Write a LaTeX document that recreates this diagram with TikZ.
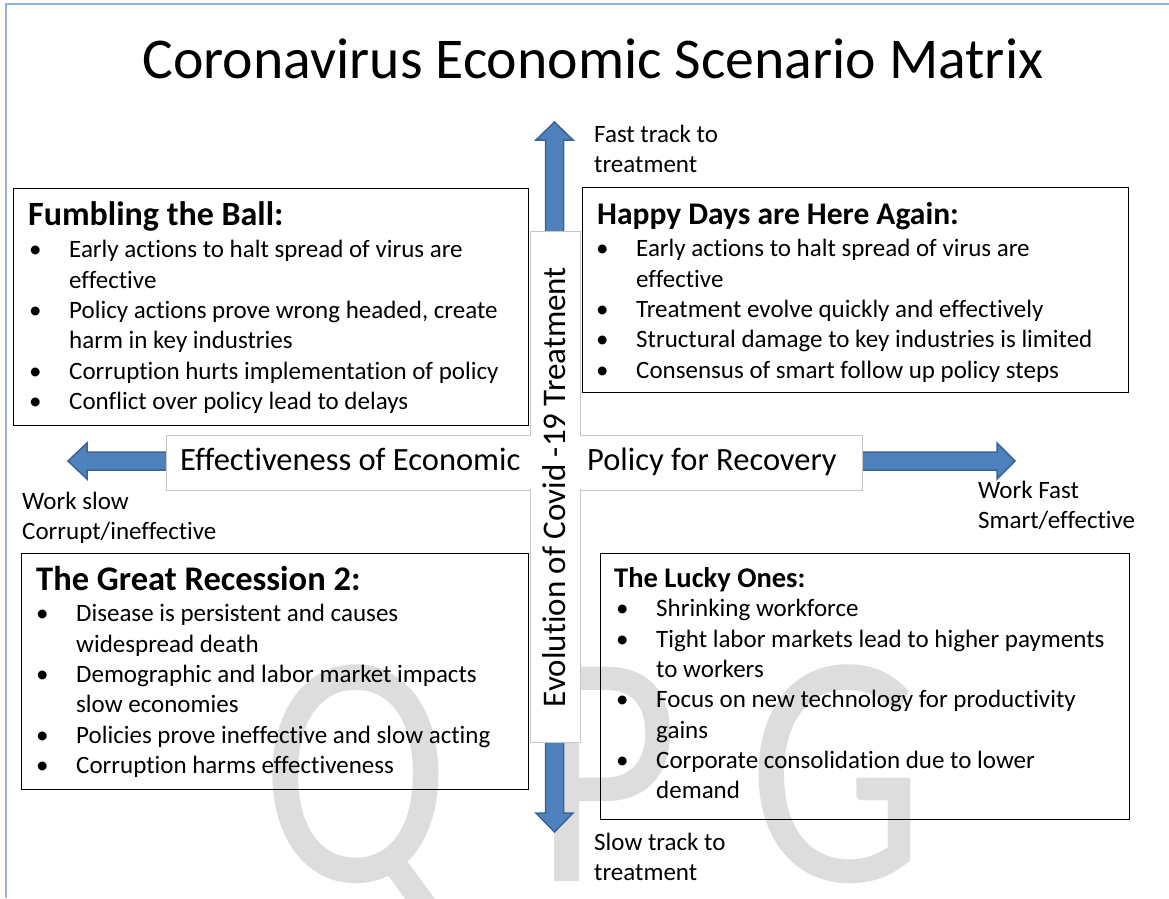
\documentclass[tikz,border=0pt]{standalone}
\usepackage{fontspec}
\setmainfont{Carlito}[Ligatures=CommonOff]
\setlength{\parindent}{0pt}
\definecolor{arrowfill}{HTML}{4F81BD}
\definecolor{arrowline}{HTML}{3B6497}
\definecolor{markgray}{HTML}{DDDDDD}
\definecolor{plusline}{HTML}{C6C6C6}
\definecolor{slideedge}{HTML}{8EB4E3}

% bullet line and continuation line with a fixed hanging indent
\newcommand\bul{\strut\makebox[40pt][l]{\textbullet}}
\newcommand\cont{\strut\hspace*{40pt}}

\begin{document}
\begin{tikzpicture}[x=1pt,y=-1pt,
  quad/.style={draw=black, line width=1.4pt, inner sep=0, anchor=north west},
  head/.style={anchor=base west, inner sep=0, font=\bfseries\fontsize{#1}{36}\selectfont},
  body/.style={anchor=north west, inner sep=0, align=left, font=\fontsize{25}{30.3}\selectfont},
  axlabel/.style={anchor=north west, inner sep=0, align=left, font=\fontsize{25}{30}\selectfont},
  blockarrow/.style={fill=arrowfill, draw=arrowline, line width=1.5pt, line join=miter},
  watermark/.style={anchor=base west, inner sep=0, text=markgray, xscale=0.84, font=\fontsize{334}{334}\selectfont},
  bar/.style={draw=plusline, fill=white, line width=0.8pt, inner sep=0, anchor=north west},
]
\useasboundingbox (0,0) rectangle (1169,898);

% faint letters in the background
\node[watermark] (wmQ) at (261.5,881) {Q};
\node[watermark] (wmP) at (534,881) {P};
\node[watermark] (wmG) at (748,881) {G};

% slide edge
\draw[slideedge, line width=1.5pt] (6,898) -- (6,4) -- (1169,4);

% title
\node[font=\fontsize{57.7}{70}\selectfont, anchor=base, inner sep=0] (title) at (593,78) {Coronavirus Economic Scenario Matrix};

% axis block arrows
\draw[blockarrow] (545.5,140) -- (536,140) -- (554.5,122) -- (573,140) -- (563.5,140)
  -- (563.5,813) -- (573,813) -- (554.5,832) -- (536,813) -- (545.5,813) -- cycle;
\draw[blockarrow] (87,452) -- (87,443) -- (68,461) -- (87,479) -- (87,470)
  -- (997,470) -- (997,479) -- (1015,461) -- (997,443) -- (997,452) -- cycle;

% cross-shaped label panel
\node[bar, minimum width=696, minimum height=55] (hbar) at (166,435) {};
\node[bar, minimum width=50, minimum height=511] (vbar) at (530,231) {};
\fill[white] (166.6,435.6) rectangle (861.4,489.4);
\fill[white] (530.6,231.6) rectangle (579.4,741.4);

\node[font=\fontsize{32.5}{38}\selectfont, anchor=base west, inner sep=0] (econL) at (180,470) {Effectiveness of Economic};
\node[font=\fontsize{32.5}{38}\selectfont, anchor=base west, inner sep=0] (econR) at (587,470) {Policy for Recovery};
\node[font=\fontsize{33}{38}\selectfont, rotate=90, anchor=base, inner sep=0] (covid) at (565,487) {Evolution of Covid -19 Treatment};

% axis end labels
\node[axlabel] (fast) at (594,121) {\strut Fast track to\\\strut treatment};
\node[axlabel] (slowwork) at (22,488) {\strut Work slow\\\strut Corrupt/ineffective};
\node[axlabel] (fastwork) at (978,477) {\strut Work Fast\\\strut Smart/effective};
\node[axlabel] (slow) at (594,829) {\strut Slow track to\\\strut treatment};

% quadrant frames
\node[quad, minimum width=515, minimum height=237] (fumble) at (13,188) {};
\node[quad, minimum width=546, minimum height=205] (happy) at (582,187) {};
\node[quad, minimum width=507, minimum height=236] (recession) at (21,553) {};
\node[quad, minimum width=529, minimum height=266] (lucky) at (600,553) {};

% quadrant texts
\node[head=34] (fumbleH) at (28,225) {Fumbling the Ball:};
\node[head=31.5] (happyH) at (597,224) {Happy Days are Here Again:};
\node[head=34.5] (recessionH) at (36,590) {The Great Recession 2:};
\node[head=28.5] (luckyH) at (614,587) {The Lucky Ones:};

\node[body] (fumbleB) at (29,236.5) {%
\bul Early actions to halt spread of virus are\\
\cont effective\\
\bul Policy actions prove wrong headed, create\\
\cont harm in key industries\\
\bul Corruption hurts implementation of policy\\
\bul Conflict over policy lead to delays};

\node[body] (happyB) at (596,235.5) {%
\bul Early actions to halt spread of virus are\\
\cont effective\\
\bul Treatment evolve quickly and effectively\\
\bul Structural damage to key industries is limited\\
\bul Consensus of smart follow up policy steps};

\node[body] (recessionB) at (36,600.5) {%
\bul Disease is persistent and causes\\
\cont widespread death\\
\bul Demographic and labor market impacts\\
\cont slow economies\\
\bul Policies prove ineffective and slow acting\\
\bul Corruption harms effectiveness};

\node[body] (luckyB) at (616,595.5) {%
\bul Shrinking workforce\\
\bul Tight labor markets lead to higher payments\\
\cont to workers\\
\bul Focus on new technology for productivity\\
\cont gains\\
\bul Corporate consolidation due to lower\\
\cont demand};
\end{tikzpicture}
\end{document}
